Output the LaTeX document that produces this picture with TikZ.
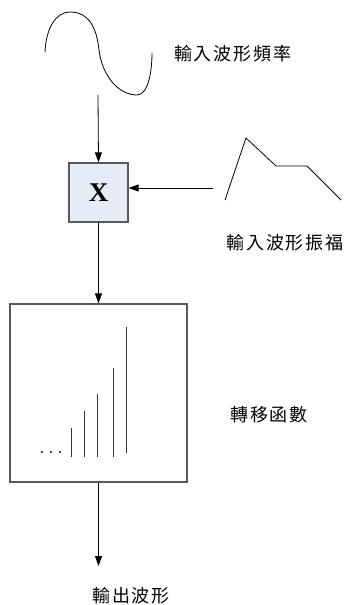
\documentclass[tikz,border=0pt]{standalone}
\usepackage{fontspec}
\setmainfont{Liberation Serif}
\newfontfamily\cjk[LetterSpace=10]{Noto Sans CJK TC}
\usetikzlibrary{arrows.meta}
\begin{document}
\begin{tikzpicture}[x=1pt,y=-1pt,
  conn/.style={draw=black,line width=0.8pt,-{Triangle[length=10pt,width=7pt]}},
  wave/.style={draw=black,line width=0.8pt},
  lbl/.style={font=\cjk\fontsize{18}{18}\selectfont,inner sep=0pt},
  bar/.style={draw=black!80,line width=0.8pt},
  dotc/.style={fill=black,circle,inner sep=0pt,minimum size=2.4pt}]
\useasboundingbox (0,0) rectangle (347,605);
% sine wave
\draw[wave] (45,52) .. controls (46,28) and (56,12) .. (70,12)
  .. controls (90,12) and (97,30) .. (99,50)
  .. controls (102,75) and (118,95) .. (137,95)
  .. controls (148,95) and (152,72) .. (152,53);
\coordinate (wbot) at (98,95);
\node[lbl,anchor=west] (t1) at (174,54) {輸入波形頻率};
% multiplier box
\node[draw=black!65,line width=1.2pt,fill={rgb,255:red,230;green,236;blue,247},
  minimum width=59pt,minimum height=59pt,inner sep=0pt,
  font=\fontsize{27}{27}\selectfont\bfseries] (mul) at (98.5,192.5) {X};
\draw[conn] (wbot) -- (mul.north);
% amplitude shape
\draw[wave] (225,200) -- (246,138) -- (276,166) -- (307,166) -- (341,200);
\coordinate (astart) at (213,188);
\draw[conn] (astart) -- (mul.east |- astart);
\node[lbl] (t2) at (285,243) {輸入波形振福};
% transfer box
\node[draw=black!65,line width=1.2pt,minimum width=177pt,minimum height=178pt,inner sep=0pt] (tf) at (98.5,393) {};
\draw[conn] (mul.south) -- (tf.north);
\draw[bar] (71,428) -- (71,457);
\draw[bar] (84,411) -- (84,457);
\draw[bar] (97,394) -- (97,457);
\draw[bar] (113,368) -- (113,457);
\draw[bar] (126,327) -- (126,453);
\node[dotc] (d1) at (42,452) {};
\node[dotc] (d2) at (51,452) {};
\node[dotc] (d3) at (60,452) {};
\node[lbl] (t3) at (269,415) {轉移函數};
% output
\coordinate (out) at (98.5,566);
\draw[conn] (tf.south) -- (out);
\node[lbl] (t4) at (131,596) {輸出波形};
\end{tikzpicture}
\end{document}
